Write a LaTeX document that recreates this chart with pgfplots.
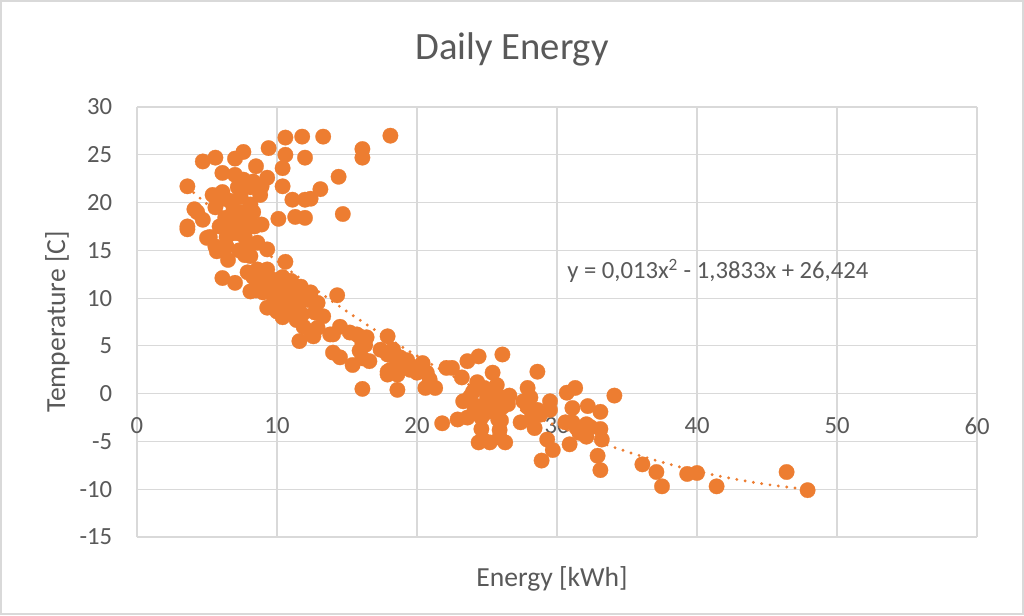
\documentclass[border=0pt]{standalone}
\usepackage{fontspec}
\setmainfont{Carlito}
\usepackage{pgfplots}
\usepackage{pgfplotstable}
\pgfplotsset{compat=1.18}
\definecolor{exorange}{HTML}{ED7D31}
\definecolor{txtgray}{HTML}{595959}
\definecolor{gridgray}{HTML}{D9D9D9}

\pgfplotstableread{
x y
3.6 21.7
3.6 17.5
3.6 17.2
4.1 19.3
4.3 19.0
4.7 18.2
4.7 24.3
5.0 16.3
5.2 16.4
5.4 20.8
5.6 24.7
5.6 19.5
5.6 15.4
5.7 14.9
5.9 17.5
5.9 20.3
6.1 23.1
6.1 21.1
6.1 12.1
6.4 16.4
6.5 14.0
6.6 17.0
6.9 19.3
6.9 17.9
6.9 16.8
7.0 24.6
7.0 22.9
7.0 11.6
7.2 21.6
7.2 16.8
7.4 20.6
7.6 25.3
7.6 22.4
7.7 16.4
7.7 14.5
7.4 19.0
7.9 14.7
7.9 12.7
8.1 21.6
8.1 19.8
8.1 17.5
8.1 10.7
8.3 22.2
8.3 12.2
8.4 17.5
8.5 23.8
8.6 13.0
8.6 11.6
8.8 20.8
8.8 11.6
8.9 21.7
8.9 17.7
9.0 12.7
9.0 10.6
9.3 22.6
9.3 15.1
9.3 13.0
9.3 9.0
9.4 25.7
9.7 11.9
10.0 11.9
10.0 10.2
10.0 8.6
10.1 18.3
10.4 23.6
10.4 21.7
10.4 12.2
10.6 26.8
10.6 25.0
10.6 13.8
10.7 9.8
10.9 10.9
10.9 9.1
11.1 20.3
11.3 18.5
11.4 11.2
11.4 7.7
11.6 9.5
11.6 5.5
11.8 26.9
11.9 10.6
11.9 7.0
12.0 24.7
12.0 20.3
12.0 18.4
12.4 20.4
12.4 10.6
12.4 6.5
12.6 6.0
12.9 9.5
12.9 6.9
13.1 21.4
13.3 26.9
13.3 8.1
13.8 6.2
14.0 6.2
14.0 4.3
14.3 10.3
14.4 22.7
14.5 7.0
14.5 3.8
14.7 18.8
15.2 6.4
15.4 3.0
15.7 6.2
15.9 6.0
15.9 4.5
16.1 25.6
16.1 24.7
16.1 5.3
16.1 3.7
16.1 0.5
16.3 5.1
16.4 5.9
16.6 3.4
17.4 4.6
17.9 6.0
17.9 4.1
17.9 2.3
17.9 2.0
18.1 27.0
18.1 4.4
18.1 2.5
18.3 4.6
18.6 3.2
18.6 2.0
18.6 0.4
18.8 3.8
19.3 3.5
19.5 2.5
19.7 2.8
20.0 2.2
20.4 3.2
20.7 2.2
20.9 1.5
20.6 0.6
21.3 0.6
21.8 -3.1
22.1 2.7
22.5 2.7
23.2 1.7
23.6 3.4
24.4 3.9
26.1 4.1
24.3 1.2
25.4 2.2
25.7 0.9
23.3 -0.8
23.8 -0.3
24.3 -1.3
25.0 -0.3
25.4 -0.1
25.9 -0.3
26.1 -1.4
26.5 -1.1
22.9 -2.7
23.6 -2.5
24.6 -3.7
24.4 -5.1
24.7 -4.8
25.2 -5.1
25.9 -3.8
25.9 -4.6
26.3 -5.1
24.6 -2.5
25.8 -2.7
27.4 -3.0
27.9 0.6
28.1 -0.4
27.9 -1.4
28.6 2.3
28.4 -3.6
28.6 -1.7
29.3 -4.8
29.7 -5.9
28.9 -7.0
29.5 -0.8
29.5 -1.7
30.7 0.1
31.3 0.6
31.1 -1.5
31.1 -3.0
30.9 -5.3
32.2 -1.3
33.1 -1.9
32.1 -3.2
33.1 -3.7
31.6 -4.1
32.1 -4.5
33.2 -4.8
32.9 -6.5
33.1 -8.0
34.1 -0.2
30.6 -3.0
31.4 -3.6
32.4 -3.5
36.1 -7.4
37.1 -8.2
37.5 -9.7
39.3 -8.4
40.0 -8.3
41.4 -9.7
46.4 -8.2
47.9 -10.1
8.5 10.8
9.2 11.0
9.6 10.5
10.2 10.8
10.5 11.5
11.0 11.8
11.7 11.2
12.2 9.8
11.2 8.6
10.4 8.0
11.8 8.3
12.7 8.5
9.8 9.5
11.4 10.0
6.3 18.4
7.0 18.6
7.8 18.0
8.3 19.0
6.6 20.2
7.9 15.6
8.6 15.8
6.4 15.4
7.3 15.0
8.1 14.4
24.0 0.2
24.8 0.6
25.2 -1.0
24.9 -2.0
25.6 -1.9
26.0 -2.8
24.1 -1.8
26.6 -0.2
27.6 -0.8
28.2 -2.5
28.8 -2.2
}\energydata

\begin{document}
\begin{tikzpicture}
\useasboundingbox (0,0) rectangle (768pt,461.25pt);
\fill[white] (0,0) rectangle (768pt,461.25pt);
\draw[gridgray, line width=1.5pt] (0.75pt,0.75pt) rectangle (767.25pt,460.5pt);
\begin{axis}[
  at={(102.75pt,58.5pt)}, anchor=south west,
  width=630pt, height=322.5pt, scale only axis,
  xmin=0, xmax=60, ymin=-15, ymax=30,
  xtick={0,10,...,60}, ytick={-15,-10,...,30},
  axis x line*=middle, axis y line*=left,
  hide obscured x ticks=false, hide obscured y ticks=false,
  axis line style={draw=gridgray, line width=0.9pt},
  grid=major, major grid style={draw=gridgray, line width=0.9pt},
  major tick length=0pt,
  tick label style={font=\fontsize{18.5}{20}\selectfont, text=txtgray},
  /pgf/number format/assume math mode=true,
  xticklabel style={anchor=north, inner sep=0pt, yshift=-18pt},
  yticklabel style={anchor=east, inner sep=0pt, xshift=-18.5pt},
  clip=false,
]
\addplot[only marks, mark=*, mark size=5.8pt, color=exorange,
  mark options={solid, fill=exorange, draw=exorange, line width=0.2pt}]
  table[x=x, y=y] {\energydata};
\addplot[exorange, line width=2.4pt, line cap=round, dash pattern=on 0pt off 6.3pt, smooth, no marks]
  coordinates {(3.6,21.613) (5,19.833) (7,17.378) (9,15.027) (11,12.781) (13,10.638) (15,8.600) (17,6.665) (19,4.834) (21,3.108) (23,1.485) (25,-0.034) (27,-1.448) (29,-2.759) (31,-3.965) (33,-5.068) (35,-6.067) (37,-6.961) (39,-7.752) (41,-8.438) (43,-9.021) (45,-9.500) (47,-9.874) (47.9,-10.009)};
\end{axis}
\node[anchor=base, text=txtgray, font=\fontsize{29}{32}\selectfont] at (384pt,416.25pt) {Daily Energy};
\node[anchor=base, text=txtgray, font=\fontsize{20.7}{23}\selectfont] at (414pt,21.75pt) {Energy [kWh]};
\node[anchor=base, rotate=90, text=txtgray, font=\fontsize{20.7}{23}\selectfont] at (48.75pt,219.75pt) {Temperature [C]};
\node[anchor=base west, inner sep=0pt, text=txtgray, font=\fontsize{18.5}{20}\selectfont] at (425.25pt,252pt) {y = 0,013x\textsuperscript{2} - 1,3833x + 26,424};
\end{tikzpicture}
\end{document}
